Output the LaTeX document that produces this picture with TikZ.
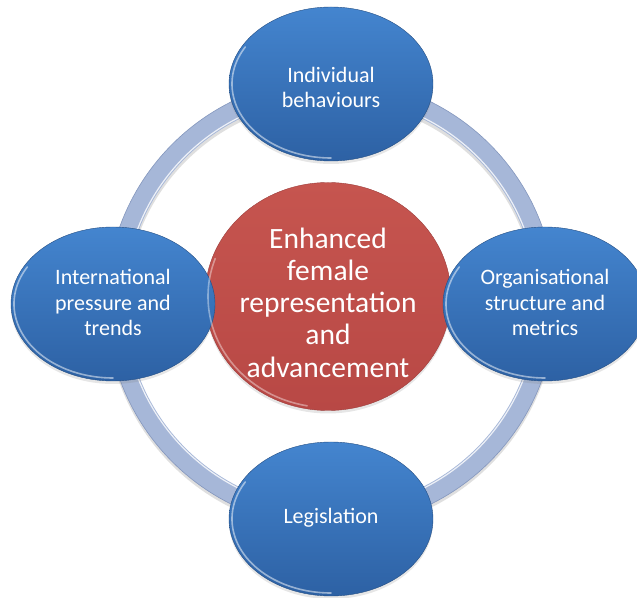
\documentclass[tikz,border=0pt]{standalone}
\usepackage{fontspec}
\setmainfont{Carlito}
\usetikzlibrary{shapes.geometric,shadows}

\definecolor{hubtop}{HTML}{4485CF}
\definecolor{hubbot}{HTML}{2D61A4}
\definecolor{coretop}{HTML}{C6554F}
\definecolor{corebot}{HTML}{B84845}
\definecolor{ringfill}{HTML}{A6B7D8}
\definecolor{ringedge}{HTML}{8396BD}

\begin{document}
\begin{tikzpicture}[x=1pt,y=1pt,
    hub/.style={ellipse,minimum width=204pt,minimum height=154pt,inner sep=0pt,
      top color=hubtop,bottom color=hubbot,draw=hubbot!80!black,line width=.4pt,
      drop shadow={shadow xshift=0pt,shadow yshift=-3pt,opacity=.2}},
    core/.style={ellipse,minimum width=246pt,minimum height=228pt,inner sep=0pt,
      top color=coretop,bottom color=corebot,draw=corebot!85!black,line width=.4pt,
      drop shadow={shadow xshift=0pt,shadow yshift=-3pt,opacity=.2}},
    hubtext/.style={text=white,align=center,inner sep=0pt,font=\fontsize{22}{25.5}\selectfont},
    coretext/.style={text=white,align=center,inner sep=0pt,font=\fontsize{29.5}{32.3}\selectfont},
    rim/.style={white,opacity=.5,line width=1.6pt,line cap=round}]
  \useasboundingbox (0,0) rectangle (637,597);
  \clip (0,0) rectangle (637,597);
  \def\R{215}
  \coordinate (ring) at (331,294);
  % ring behind everything
  \draw[black!25,opacity=.5,line width=20pt] ([yshift=-3pt]ring) circle (\R);
  \draw[ringfill,line width=19pt] (ring) circle (\R);
  \draw[ringedge,line width=.6pt] (ring) circle (\R+9.5);
  \draw[white,opacity=.8,line width=1.2pt] (ring) circle (\R-8);
  % centre
  \node[core] (core) at (328,300.5) {};
  \node[coretext] (coretxt) at ([yshift=-6pt]core.center) {Enhanced\\female\\representation\\and\\advancement};
  % the four drivers
  \node[hub] (indiv) at (331,513) {};
  \node[hub] (intl) at (113,293) {};
  \node[hub] (org) at (545,293) {};
  \node[hub] (legis) at (331,78) {};
  \node[hubtext] (indivtxt) at ([yshift=-3.5pt]indiv.center) {Individual\\behaviours};
  \node[hubtext] (intltxt) at ([yshift=1.5pt]intl.center) {International\\pressure and\\trends};
  \node[hubtext] (orgtxt) at ([yshift=1.5pt]org.center) {Organisational\\structure and\\metrics};
  \node[hubtext] (legistxt) at ([yshift=1pt]legis.center) {Legislation};
  % glossy rims
  \foreach \n in {indiv,intl,org,legis}
    \draw[rim] ([shift={(150:99 and 74)}]\n.center) arc[start angle=150,end angle=270,x radius=99,y radius=74];
  \draw[rim,opacity=.4] ([shift={(160:120 and 111)}]core.center) arc[start angle=160,end angle=260,x radius=120,y radius=111];
\end{tikzpicture}
\end{document}
